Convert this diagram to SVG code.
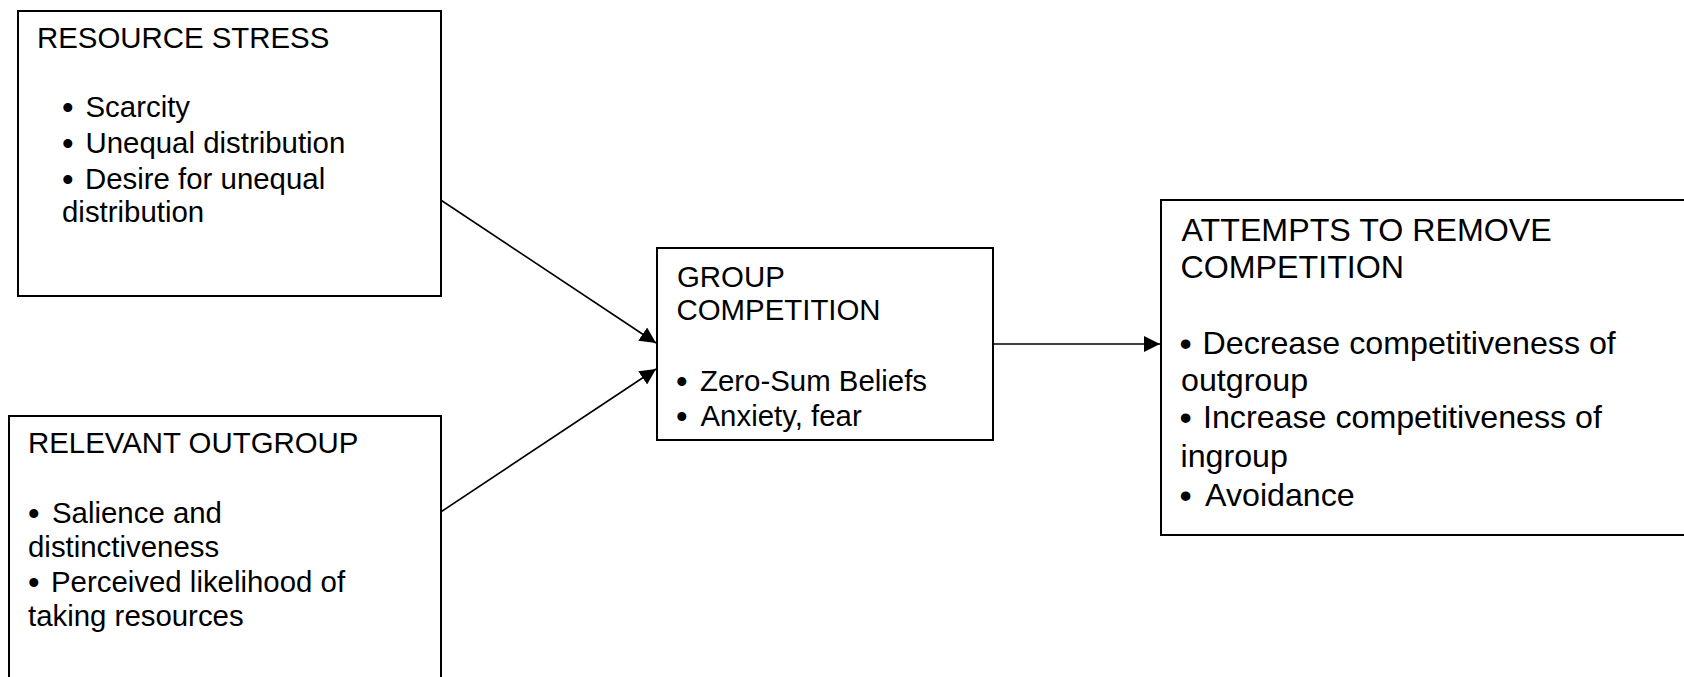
<svg xmlns="http://www.w3.org/2000/svg" width="1684" height="677" viewBox="0 0 1684 677">
  <style>
    .box { fill: #ffffff; stroke: #000000; stroke-width: 2; }
    .t { font-family: "Liberation Sans", Arial, sans-serif; font-size: 29.4px; fill: #000000; }
    .t4 { font-family: "Liberation Sans", Arial, sans-serif; font-size: 32.2px; fill: #000000; }
    .b { font-family: "Liberation Sans", Arial, sans-serif; font-size: 33px; fill: #000000; }
    .b4 { font-family: "Liberation Sans", Arial, sans-serif; font-size: 35px; fill: #000000; }
    .conn { stroke: #000000; stroke-width: 1.6; fill: none; }
  </style>
  <defs>
    <marker id="arrow" markerUnits="userSpaceOnUse" markerWidth="16" markerHeight="16" viewBox="0 0 16 16" refX="16" refY="8" orient="auto">
      <path d="M0,0 L16,8 L0,16 Z" fill="#000000"/>
    </marker>
  </defs>
  <rect width="1684" height="677" fill="#ffffff"/>

  <g id="resource-stress">
    <rect class="box" x="18" y="11" width="423" height="285"/>
    <text class="t" x="37" y="47.5">RESOURCE STRESS</text>
    <text class="b" x="62" y="119">•</text><text class="t" x="85.5" y="117">Scarcity</text>
    <text class="b" x="62" y="155">•</text><text class="t" x="85.5" y="153">Unequal distribution</text>
    <text class="b" x="62" y="191">•</text><text class="t" x="85" y="189">Desire for unequal</text>
    <text class="t" x="62" y="222">distribution</text>
  </g>

  <g id="relevant-outgroup">
    <rect class="box" x="9" y="416" width="432" height="300"/>
    <text class="t" x="28" y="453">RELEVANT OUTGROUP</text>
    <text class="b" x="28" y="525">•</text><text class="t" x="52" y="523">Salience and</text>
    <text class="t" x="28" y="557">distinctiveness</text>
    <text class="b" x="28" y="594">•</text><text class="t" x="51" y="592">Perceived likelihood of</text>
    <text class="t" x="28" y="626">taking resources</text>
  </g>

  <g id="group-competition">
    <rect class="box" x="657" y="248" width="336" height="192"/>
    <text class="t" x="677" y="286.5">GROUP</text>
    <text class="t" x="676.5" y="320">COMPETITION</text>
    <text class="b" x="676" y="392.5">•</text><text class="t" x="700" y="390.5">Zero-Sum Beliefs</text>
    <text class="b" x="676" y="427.5">•</text><text class="t" x="700.5" y="425.5">Anxiety, fear</text>
  </g>

  <g id="attempts">
    <rect class="box" x="1161" y="200" width="560" height="335"/>
    <text class="t4" x="1181.5" y="241">ATTEMPTS TO REMOVE</text>
    <text class="t4" x="1180.5" y="278">COMPETITION</text>
    <text class="b4" x="1179.5" y="356">•</text><text class="t4" x="1202.5" y="353.5">Decrease competitiveness of</text>
    <text class="t4" x="1181" y="390.5">outgroup</text>
    <text class="b4" x="1179.5" y="430">•</text><text class="t4" x="1203" y="427.5">Increase competitiveness of</text>
    <text class="t4" x="1180.5" y="466.5">ingroup</text>
    <text class="b4" x="1179.5" y="508">•</text><text class="t4" x="1205" y="505.5">Avoidance</text>
  </g>

  <g id="connectors">
    <line class="conn" x1="441.5" y1="200.5" x2="656" y2="343" marker-end="url(#arrow)"/>
    <line class="conn" x1="441.5" y1="511.5" x2="656" y2="369" marker-end="url(#arrow)"/>
    <line class="conn" x1="993" y1="344" x2="1160" y2="344" marker-end="url(#arrow)"/>
  </g>
</svg>
